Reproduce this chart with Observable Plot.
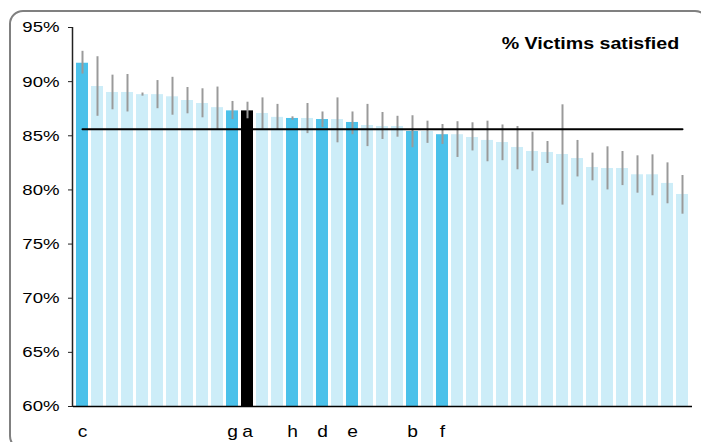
<!DOCTYPE html>
<html><head><meta charset="utf-8">
<script src="https://cdn.jsdelivr.net/npm/d3@7"></script>
<script src="https://cdn.jsdelivr.net/npm/@observablehq/plot@0.6"></script>
<style>
body{margin:0;background:#fff;}
#wrap{position:relative;width:701px;height:442px;overflow:hidden;font-family:"Liberation Sans",Arial,sans-serif;}
#chart svg{display:block;}
#frame{position:absolute;left:9px;top:10px;width:700px;height:440px;border:2px solid #808080;border-radius:14px;box-sizing:border-box;pointer-events:none;}
#title{position:absolute;right:22px;top:35px;font-weight:bold;font-size:16.5px;line-height:1;transform:scaleX(1.19);transform-origin:right center;white-space:nowrap;color:#000;}
</style></head><body>
<div id="wrap"><div id="chart"></div><div id="frame"></div><div id="title">% Victims satisfied</div></div>
<script>
const labels = ["c","","","","","","","","","","g","a","","","h","","d","","e","","","","b","","f","","","","","","","","","","","","","","","",""];
const satisfied = [91.7,89.55,89.0,89.0,88.8,88.8,88.6,88.26,87.98,87.6,87.3,87.3,87.06,86.7,86.6,86.6,86.5,86.5,86.23,85.95,85.86,85.86,85.4,85.4,85.1,85.1,84.84,84.57,84.38,83.92,83.55,83.46,83.27,82.9,82.07,81.98,81.98,81.4,81.4,80.6,79.58];
const upper = [92.8,92.3,90.6,90.66,88.95,90.1,90.4,89.46,89.34,89.5,88.17,88.1,88.5,87.9,86.75,87.98,87.2,88.5,87.2,87.9,87.15,86.8,86.85,86.35,86.04,86.3,86.2,86.35,86.0,85.86,85.33,84.47,87.86,84.57,83.4,83.98,83.55,83.15,83.24,82.5,81.33];
const lower = [90.7,86.8,87.4,87.2,88.66,87.5,86.9,87.03,86.66,85.6,86.5,86.57,85.6,85.5,86.44,85.2,85.77,84.35,85.1,84.0,84.66,84.87,83.9,84.3,84.2,83.0,83.6,82.6,82.7,81.86,81.73,82.44,78.6,81.2,80.84,80.0,80.4,79.7,79.46,78.72,77.76];
const focusLabel = "a";
const average = 85.6;
const yTicks = [60,65,70,75,80,85,90,95];
const groups = ["named","other","focus"];
const groupColors = ["#4BC1EA","#CDEDF8","#000000"];

const rows = satisfied.map((v,i)=>({
  i, label: labels[i], value: v, lo: lower[i], hi: upper[i],
  group: labels[i] === focusLabel ? "focus" : (labels[i] ? "named" : "other")
}));
const yMin = yTicks[0], yMax = yTicks[yTicks.length-1];

const chart = Plot.plot({
  width: 701, height: 442,
  marginLeft: 73, marginRight: 9, marginTop: 27, marginBottom: 36,
  style: {fontFamily: "'Liberation Sans', Arial, sans-serif", fontSize: "16px", color: "#000", background: "transparent", overflow: "visible"},
  x: {type: "band", domain: rows.map(d=>d.i), paddingInner: 0.17, paddingOuter: 0.1, label: null},
  y: {domain: [yMin, yMax], label: null},
  color: {domain: groups, range: groupColors},
  marks: [
    Plot.barY(rows, {x: "i", y1: () => yMin, y2: "value", fill: "group"}),
    Plot.ruleX(rows, {x: "i", y1: "lo", y2: "hi", stroke: "#9a9a9a", strokeWidth: 2}),
    Plot.lineY(rows, {x: "i", y: () => average, stroke: "#000", strokeWidth: 2}),
    Plot.ruleY([yMin], {stroke: "#000", strokeWidth: 1.5}),
    Plot.axisY({ticks: yTicks, tickFormat: d => d + "%", tickSize: 5, tickPadding: 9, fontSize: 15.5, stroke: "#222"}),
    Plot.axisX({tickSize: 0, tickPadding: 19, tickFormat: i => labels[i], fontSize: 16})
  ]
});
document.getElementById("chart").appendChild(chart);

// y axis line
const svg = d3.select(chart);
svg.append("line")
  .attr("x1", 72.5).attr("x2", 72.5)
  .attr("y1", 27).attr("y2", 442 - 36)
  .attr("stroke", "#222").attr("stroke-width", 1.5);

// widen text like the reference's stretched font
svg.selectAll('g[aria-label="y-axis tick label"] text, g[aria-label="x-axis tick label"] text').each(function(){
  const t = this.getAttribute("transform") || "";
  this.setAttribute("transform", t + " scale(1.2,1)");
});
</script>
</body></html>
